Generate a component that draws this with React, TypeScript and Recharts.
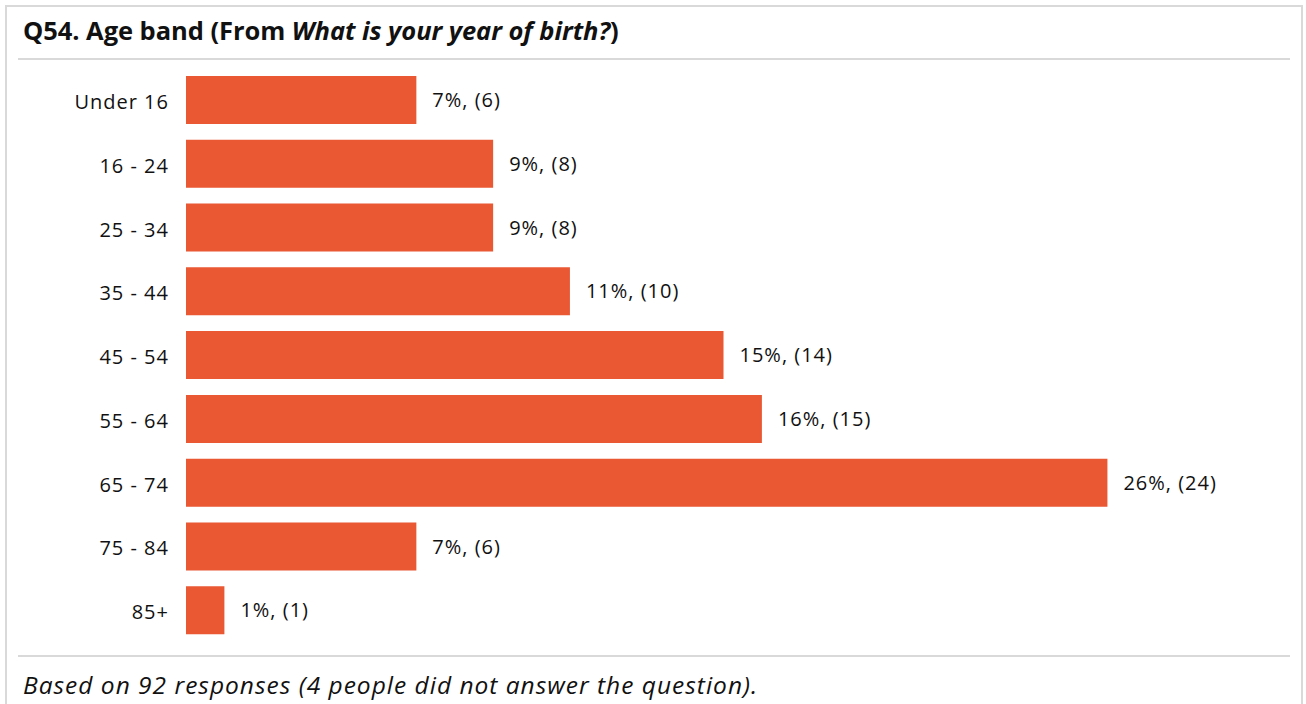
import { BarChart, Bar, XAxis, YAxis, LabelList } from 'recharts';

const categories = ['Under 16', '16 - 24', '25 - 34', '35 - 44', '45 - 54', '55 - 64', '65 - 74', '75 - 84', '85+'];
const counts = [6, 8, 8, 10, 14, 15, 24, 6, 1];
const percents = [7, 9, 9, 11, 15, 16, 26, 7, 1];

const BAR_COLOR = '#E95733';
const BORDER = '#d9d9d9';
const FONT = '"Open Sans", Lato, sans-serif';

const data = categories.map((name, i) => ({
  name,
  count: counts[i],
  label: `${percents[i]}%, (${counts[i]})`,
}));

export default function App() {
  return (
    <div
      style={{
        position: 'absolute',
        left: 0,
        top: 0,
        width: 1306,
        height: 704,
        background: '#fff',
        overflow: 'hidden',
        fontFamily: FONT,
        color: '#111',
      }}
    >
      {/* frame */}
      <div
        style={{
          position: 'absolute',
          left: 5,
          top: 5,
          width: 1298,
          height: 720,
          border: `2px solid ${BORDER}`,
          boxSizing: 'border-box',
        }}
      />
      {/* title */}
      <div
        style={{
          position: 'absolute',
          left: 23,
          top: 15,
          fontSize: 25.5,
          lineHeight: '30px',
          fontWeight: 700,
          whiteSpace: 'nowrap',
          letterSpacing: -0.05,
        }}
      >
        Q54. Age band (From <i>What is your year of birth?</i>)
      </div>
      <div style={{ position: 'absolute', left: 18, top: 58, width: 1272, height: 2, background: BORDER }} />
      <div style={{ position: 'absolute', left: 18, top: 655, width: 1272, height: 2, background: BORDER }} />
      {/* footnote */}
      <div
        style={{
          position: 'absolute',
          left: 23,
          top: 670,
          fontSize: 24.5,
          lineHeight: '30px',
          fontStyle: 'italic',
          whiteSpace: 'nowrap',
          letterSpacing: 1,
        }}
      >
        Based on 92 responses (4 people did not answer the question).
      </div>

      <div style={{ position: 'absolute', left: 0, top: 0 }}>
        <BarChart
          width={1306}
          height={704}
          data={data}
          layout="vertical"
          margin={{ top: 68, right: 45, bottom: 62, left: 0 }}
        >
          <XAxis type="number" domain={[0, 28]} hide />
          <YAxis
            type="category"
            dataKey="name"
            width={186}
            axisLine={false}
            tickLine={false}
            tickSize={6}
            tickMargin={11}
            interval={0}
            tick={{ fontSize: 20, fill: '#111', fontFamily: FONT, letterSpacing: 1, dy: 2 }}
          />
          <Bar dataKey="count" fill={BAR_COLOR} barSize={48} isAnimationActive={false}>
            <LabelList
              dataKey="label"
              position="right"
              offset={16}
              style={{ fontSize: 20, fill: '#111', fontFamily: FONT, letterSpacing: 1 }}
            />
          </Bar>
        </BarChart>
      </div>
    </div>
  );
}
